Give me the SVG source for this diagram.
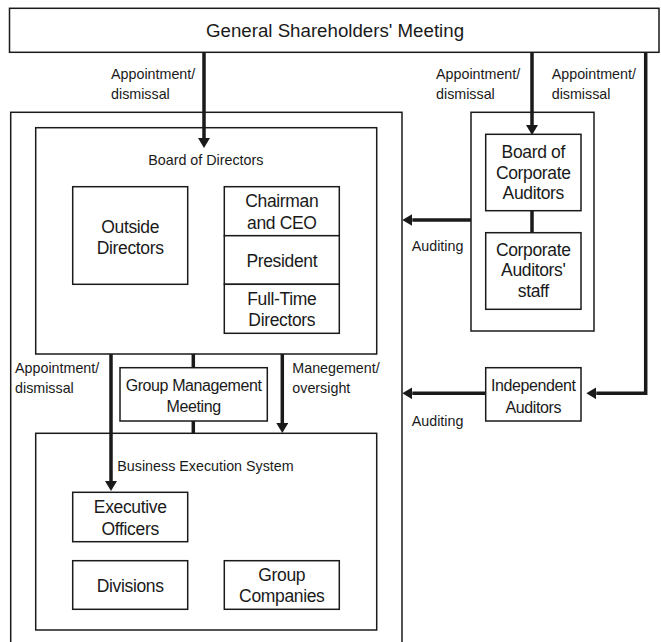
<svg xmlns="http://www.w3.org/2000/svg" width="661" height="642" viewBox="0 0 661 642">
<defs>
<marker id="ah" markerUnits="userSpaceOnUse" markerWidth="10" markerHeight="12" viewBox="0 0 10 12" refX="0" refY="6" orient="auto">
<path d="M0,0 L10,6 L0,12 z" fill="#1a1a1a"/>
</marker>
<style>
rect{fill:#fff;stroke:#1a1a1a;stroke-width:1.5}
text{font-family:"Liberation Sans",Arial,sans-serif;fill:#1a1a1a}
.t{font-size:18.7px;text-anchor:middle}
.l{font-size:14.3px}
.c{font-size:14.3px;text-anchor:middle}
.b{font-size:17.5px;letter-spacing:-0.35px;text-anchor:middle}
.s{font-size:16px;letter-spacing:-0.4px;text-anchor:middle}
.k{fill:none;stroke:#1a1a1a;stroke-width:3.5}
.a{fill:none;stroke:#1a1a1a;stroke-width:3.5;marker-end:url(#ah)}
</style>
</defs>
<rect x="0" y="0" width="661" height="642" style="fill:#fff;stroke:none"/>

<g id="shareholders">
<rect x="9.5" y="8.3" width="649.5" height="44"/>
<text class="t" x="335" y="37">General Shareholders' Meeting</text>
</g>

<g id="company">
<rect x="10.7" y="112.3" width="391.3" height="545"/>
</g>

<g id="board-of-directors">
<rect x="35.7" y="127.7" width="341" height="226.3"/>
<text class="c" x="205.8" y="165">Board of Directors</text>
</g>

<g id="outside-directors">
<rect x="72.7" y="186.7" width="115" height="97.6"/>
<text class="b" x="130.2" y="233">Outside</text>
<text class="b" x="130.2" y="254">Directors</text>
</g>

<g id="chairman">
<rect x="224.3" y="186.7" width="115" height="49"/>
<text class="b" x="281.8" y="207">Chairman</text>
<text class="b" x="281.8" y="228.5">and CEO</text>
</g>
<g id="president">
<rect x="224.3" y="235.7" width="115" height="48.6"/>
<text class="b" x="281.8" y="267">President</text>
</g>
<g id="full-time-directors">
<rect x="224.3" y="284.3" width="115" height="49"/>
<text class="b" x="281.8" y="304.5">Full-Time</text>
<text class="b" x="281.8" y="326">Directors</text>
</g>

<g id="group-management-meeting">
<rect x="120" y="367.7" width="147.3" height="53.3"/>
<text class="s" x="193.6" y="390.5">Group Management</text>
<text class="s" x="193.6" y="412">Meeting</text>
</g>

<g id="business-execution-system">
<rect x="35.7" y="433.3" width="341" height="196.7"/>
<text class="l" x="117.3" y="471">Business Execution System</text>
</g>

<g id="executive-officers">
<rect x="72.7" y="492.3" width="115" height="49.4"/>
<text class="b" x="130.2" y="513">Executive</text>
<text class="b" x="130.2" y="534.7">Officers</text>
</g>
<g id="divisions">
<rect x="72.7" y="560.7" width="115" height="48.6"/>
<text class="b" x="130.2" y="592">Divisions</text>
</g>
<g id="group-companies">
<rect x="224.3" y="560.7" width="115" height="48.6"/>
<text class="b" x="281.8" y="580.5">Group</text>
<text class="b" x="281.8" y="602">Companies</text>
</g>

<g id="corporate-auditors">
<rect x="471" y="112.3" width="123" height="218.7"/>
</g>
<g id="board-of-corporate-auditors">
<rect x="485.7" y="134.3" width="95.3" height="76.4"/>
<text class="b" x="533.3" y="158">Board of</text>
<text class="b" x="533.3" y="178.5">Corporate</text>
<text class="b" x="533.3" y="199">Auditors</text>
</g>
<g id="corporate-auditors-staff">
<rect x="485.7" y="232.7" width="95.3" height="76.6"/>
<text class="b" x="533.3" y="255.5">Corporate</text>
<text class="b" x="533.3" y="276">Auditors'</text>
<text class="b" x="533.3" y="297">staff</text>
</g>

<g id="independent-auditors">
<rect x="485.7" y="367.7" width="95.3" height="53.3"/>
<text class="s" x="533.3" y="390.5">Independent</text>
<text class="s" x="533.3" y="413">Auditors</text>
</g>

<g id="connectors">
<line class="a" x1="204" y1="53" x2="204" y2="138"/>
<line class="a" x1="532" y1="53" x2="532" y2="125"/>
<path class="a" d="M645.7,53 V393.3 H596.3"/>
<line class="k" x1="532" y1="210.7" x2="532" y2="232.7"/>
<line class="a" x1="471" y1="220" x2="412.3" y2="220"/>
<line class="a" x1="485.7" y1="393.3" x2="412.3" y2="393.3"/>
<line class="a" x1="111" y1="354" x2="111" y2="481"/>
<line class="k" x1="193.3" y1="354" x2="193.3" y2="367.7"/>
<line class="k" x1="193.3" y1="421" x2="193.3" y2="433.3"/>
<line class="a" x1="282.3" y1="354" x2="282.3" y2="423"/>
</g>

<g id="labels">
<text class="l" x="111" y="79">Appointment/</text>
<text class="l" x="111" y="99">dismissal</text>
<text class="l" x="436" y="79">Appointment/</text>
<text class="l" x="436" y="99">dismissal</text>
<text class="l" x="551.7" y="79">Appointment/</text>
<text class="l" x="551.7" y="99">dismissal</text>
<text class="l" x="15" y="373">Appointment/</text>
<text class="l" x="15" y="393">dismissal</text>
<text class="l" x="292.3" y="373">Manegement/</text>
<text class="l" x="292.3" y="393">oversight</text>
<text class="l" x="411.7" y="251">Auditing</text>
<text class="l" x="411.7" y="426">Auditing</text>
</g>
</svg>
